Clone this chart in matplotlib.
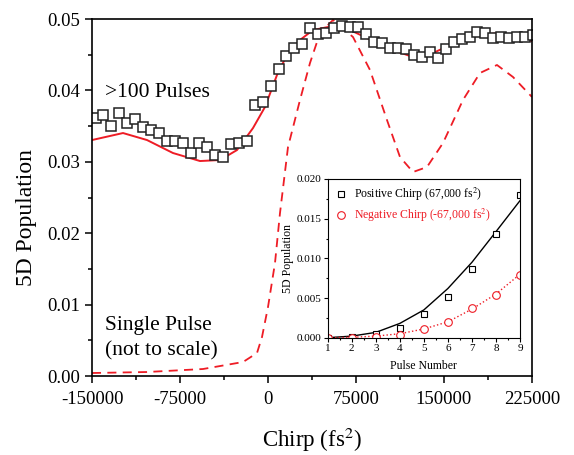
import matplotlib.pyplot as plt
import numpy as np
from matplotlib.ticker import MultipleLocator, FormatStrFormatter

plt.rcParams['font.family'] = ['Liberation Serif', 'DejaVu Serif']
plt.rcParams['mathtext.fontset'] = 'stix'
plt.rcParams['axes.unicode_minus'] = False

# ── main panel: >100 pulses data (squares) ─────────────────────────────────
chirp_data = np.linspace(-147000, 226000, 56)
pop_data = [
    0.03613, 0.03655, 0.03501, 0.03683, 0.03543, 0.03599, 0.03487, 0.03445,
    0.03403, 0.03291, 0.03291, 0.03263, 0.03123, 0.03263, 0.03207, 0.03095,
    0.03067, 0.03249, 0.03263, 0.03291, 0.03796, 0.03838, 0.04062, 0.04300,
    0.04482, 0.04594, 0.04650, 0.04874, 0.04790, 0.04804, 0.04874, 0.04902,
    0.04888, 0.04888, 0.04790, 0.04678, 0.04664, 0.04594, 0.04594, 0.04580,
    0.04496, 0.04468, 0.04538, 0.04454, 0.04580, 0.04678, 0.04720, 0.04748,
    0.04818, 0.04804, 0.04734, 0.04748, 0.04734, 0.04748, 0.04748, 0.04776,
]

# ── main panel: >100 pulses simulation (solid red) ─────────────────────────
chirp_fit = [-150000, -123580, -103125, -80966, -57955, -40909, -26420, -12784,
             -2557, 7670, 16193, 27273, 38352, 55398, 69886, 84375, 101420,
             123580, 140625, 161080, 180682, 197727, 214773, 225000]
pop_fit = [0.03305, 0.03403, 0.03305, 0.03123, 0.03011, 0.03025, 0.03165,
           0.03473, 0.03768, 0.04216, 0.04496, 0.04706, 0.04846, 0.04902,
           0.04846, 0.04734, 0.04594, 0.04468, 0.04524, 0.04678, 0.04776,
           0.04804, 0.04748, 0.04690]

# ── main panel: single pulse simulation (dashed red, not to scale) ────────
chirp_single = [-150000, -103125, -55398, -21307, -9375, -5114, 0, 5966, 10227,
                17045, 27273, 35795, 44318, 55398, 72443, 86932, 101420, 112500,
                123580, 135511, 149148, 166193, 180682, 195170, 208807, 225000]
pop_single = [0.00042, 0.00056, 0.00098, 0.00196, 0.00322, 0.00546, 0.00966,
              0.01583, 0.02283, 0.03207, 0.03866, 0.04384, 0.04804, 0.04986,
              0.04748, 0.04286, 0.03585, 0.03067, 0.02857, 0.02927, 0.03263,
              0.03866, 0.04244, 0.04356, 0.04188, 0.03908]

# ── inset: population vs pulse number ─────────────────────────────────────
pulse_n = [1, 2, 3, 4, 5, 6, 7, 8, 9]
pos_chirp = [0.0, 0.0001, 0.0005, 0.00126, 0.00298, 0.00517, 0.0087, 0.01307, 0.01794]
neg_chirp = [0.0, 0.0, 0.0001, 0.00038, 0.00109, 0.00193, 0.0037, 0.00542, 0.0079]
pos_fit = [0.0, 0.0002, 0.00067, 0.0018, 0.0035, 0.0062, 0.0095, 0.01336, 0.01727]
neg_fit = [0.0, 0.00005, 0.0002, 0.0005, 0.0011, 0.002, 0.0036, 0.0055, 0.0080]

red = '#ee1c25'

fig = plt.figure(figsize=(5.74, 4.55), dpi=100)
ax = fig.add_axes([0.1603, 0.1736, 0.7665, 0.7846])

ax.plot(chirp_single, pop_single, ls=(0, (5, 3.5)), color=red, lw=1.3)
ax.plot(chirp_fit, pop_fit, color=red, lw=1.4)
ax.plot(chirp_data, pop_data, ls='none', marker='s', ms=6.5, mfc='white',
        mec='#222222', mew=1.1)

ax.set_xlim(-150000, 225000)
ax.set_ylim(0, 0.05)
ax.xaxis.set_major_locator(MultipleLocator(75000))
ax.xaxis.set_minor_locator(MultipleLocator(37500))
ax.yaxis.set_major_locator(MultipleLocator(0.01))
ax.yaxis.set_minor_locator(MultipleLocator(0.005))
ax.yaxis.set_major_formatter(FormatStrFormatter('%.2f'))
ax.tick_params(which='both', direction='out', labelsize=13.5, width=1.1)
ax.tick_params(which='major', length=5)
ax.tick_params(which='minor', length=3)
ax.tick_params(axis='x', pad=6)
for s in ax.spines.values():
    s.set_linewidth(1.2)
ax.set_xlabel('Chirp (fs$^2$)', fontsize=16.5)
ax.set_ylabel('5D Population', fontsize=17)
ax.xaxis.set_label_coords(0.5, -0.14)
ax.yaxis.set_label_coords(-0.125, 0.445)

ax.text(-139000, 0.0391, '>100 Pulses', fontsize=15.5)
ax.text(-139000, 0.0065, 'Single Pulse', fontsize=15.5)
ax.text(-139000, 0.0029, '(not to scale)', fontsize=15.5)

# ── inset ─────────────────────────────────────────────────────────────────
ins = fig.add_axes([0.5709, 0.2578, 0.335, 0.3488])
ins.plot(pulse_n, pos_fit, color='black', lw=1.0)
ins.plot(pulse_n, neg_fit, color=red, lw=1.0, ls=':')
ins.plot(pulse_n, pos_chirp, ls='none', marker='s', ms=5, mfc='white',
         mec='black', mew=0.8, label='Positive Chirp (67,000 fs$^2$)')
ins.plot(pulse_n, neg_chirp, ls='none', marker='o', ms=5.5, mfc='white',
         mec=red, mew=0.8, label='Negative Chirp (-67,000 fs$^2$)')
ins.set_xlim(1, 9)
ins.set_ylim(0, 0.020)
ins.xaxis.set_major_locator(MultipleLocator(1))
ins.xaxis.set_minor_locator(MultipleLocator(0.5))
ins.yaxis.set_major_locator(MultipleLocator(0.005))
ins.yaxis.set_minor_locator(MultipleLocator(0.0025))
ins.yaxis.set_major_formatter(FormatStrFormatter('%.3f'))
ins.tick_params(which='both', direction='out', labelsize=8, width=0.8, pad=1.5)
ins.tick_params(which='major', length=3)
ins.tick_params(which='minor', length=1.5)
ins.set_xlabel('Pulse Number', fontsize=8.5, labelpad=5)
ins.set_ylabel('5D Population', fontsize=8.5, labelpad=2)
leg = ins.legend(loc='upper left', fontsize=8.5, frameon=False, handletextpad=0.6,
                 handlelength=1.0, borderaxespad=0.2, labelspacing=0.3)
leg.get_texts()[1].set_color(red)

fig.savefig('out.png', dpi=100)
